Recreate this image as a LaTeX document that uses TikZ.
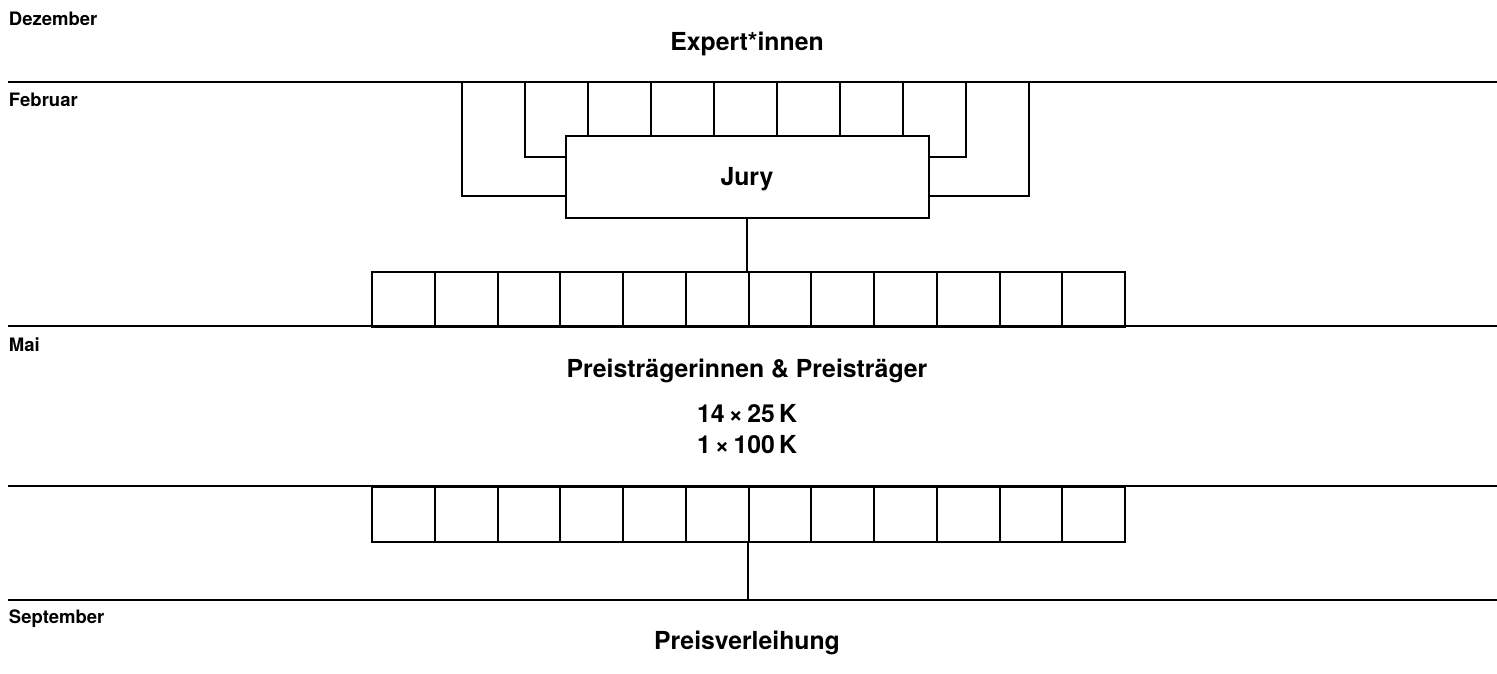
\documentclass[tikz,border=0pt]{standalone}
\usepackage{fontspec}
\setmainfont{TeX Gyre Heros}
\begin{document}
\begin{tikzpicture}[x=1pt,y=-1pt,line width=2pt,
  month/.style={anchor=base west,inner sep=0pt,font=\fontsize{18.5}{22}\selectfont\bfseries},
  head/.style={anchor=base,inner sep=0pt,font=\fontsize{24.8}{29}\selectfont\bfseries},
  cell/.style={draw,anchor=north west,minimum width=62.75pt,minimum height=55pt,inner sep=0pt,line width=2pt},
  jurybox/.style={draw,minimum width=363pt,minimum height=82pt,inner sep=0pt,line width=2pt,
    font=\fontsize{24.8}{29}\selectfont\bfseries,text height=17.8pt,text depth=0pt},
  timeline/.style={line width=2.3pt},
  link/.style={line width=2pt}]
\useasboundingbox (0,0) rectangle (1497,674);
% timelines
\coordinate (t1a) at (8,82);  \coordinate (t1b) at (1497,82);
\coordinate (t2a) at (8,326); \coordinate (t2b) at (1497,326);
\coordinate (t3a) at (8,486); \coordinate (t3b) at (1497,486);
\coordinate (t4a) at (8,600); \coordinate (t4b) at (1497,600);
% texts
\node[month] (dez) at (8,26) {Dezember};
\node[head] (exp) at (747,51) {Expert*innen};
\node[month] (feb) at (8,107) {Februar};
\node[month] (mai) at (8,351) {Mai};
\node[head] (preis) at (747,377) {Preisträgerinnen \& Preisträger};
\node[head] (sum1) at (747,422) {14\,×\,25\,K};
\node[head] (sum2) at (747,453) {1\,×\,100\,K};
\node[month] (sep) at (8,623) {September};
\node[head] (verl) at (747,649) {Preisverleihung};
% jury
\node[jurybox] (jury) at (747,177) {Jury};
% cells
\foreach \i in {1,...,12} {
  \node[cell] (r1c\i) at ({371+62.75*(\i-1)},271) {};
  \node[cell] (r2c\i) at ({371+62.75*(\i-1)},486) {};
}
% experts
\foreach \i in {0,...,9} \coordinate (e\i) at ({462+63*\i},82);
\draw[link] (e0) |- (jury.west |- 0,196);
\draw[link] (e1) |- (jury.west |- 0,157);
\draw[link] (e8) |- (jury.east |- 0,157);
\draw[link] (e9) |- (jury.east |- 0,196);
\foreach \i in {2,...,7} \draw[link] (e\i) -- (e\i |- jury.north);
% connectors
\draw[link] (jury.south) -- (jury.south |- r1c7.north west);
\draw[link] (r2c7.south west) -- (r2c7.south west |- t4a);
\draw[timeline] (t1a) -- (t1b);
\draw[timeline] (t2a) -- (t2b);
\draw[timeline] (t3a) -- (t3b);
\draw[timeline] (t4a) -- (t4b);
\end{tikzpicture}
\end{document}
